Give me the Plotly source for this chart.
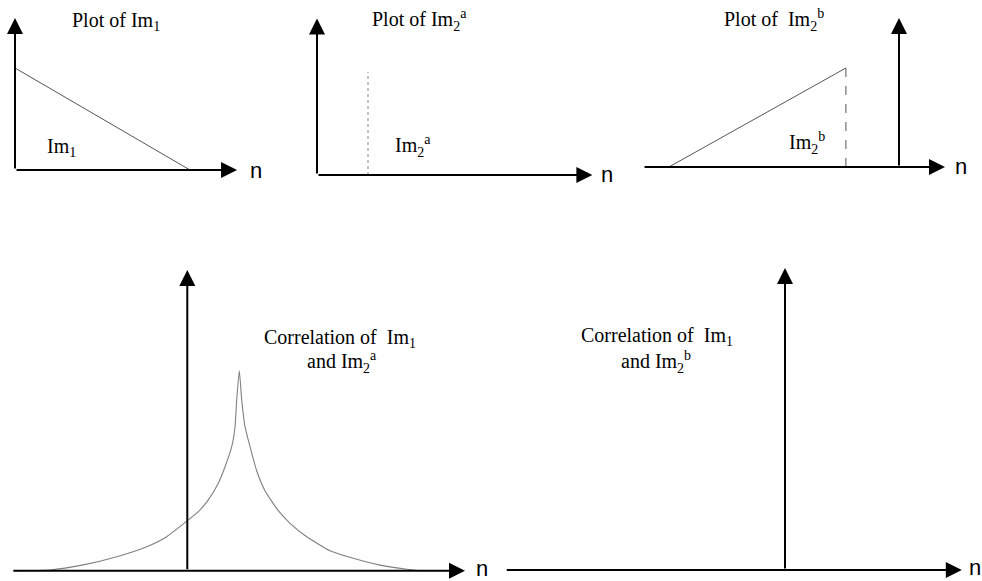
import plotly.graph_objects as go

# ---------------- data ----------------
# Im1: falling ramp from n=0 to n=10
im1_n = [0, 10]
im1_v = [1.0, 0.0]

# Im2^a: single impulse
im2a_n = [3]
im2a_v = [1.0]

# Im2^b: rising ramp ending with a vertical drop
im2b_n = [-13, -3]
im2b_v = [0.0, 1.0]

# Correlation of Im1 and Im2^a
corr_a_n = [-16.76, -13.2, -10.0, -6.79, -3.9, -1.98, 0.1, 1.06, 2.02, 2.98, 3.63, 4.27, 4.59, 4.75, 5.0,
            5.23, 5.55, 6.03, 6.67, 7.47, 8.75, 9.88, 11.48, 13.72, 15.96, 18.53, 21.1, 22.4]
corr_a_v = [0.0, 0.0035, 0.029, 0.07, 0.12, 0.17, 0.254, 0.295, 0.354, 0.437, 0.52, 0.62, 0.72, 0.854, 1.0,
            0.854, 0.72, 0.62, 0.50, 0.40, 0.30, 0.237, 0.17, 0.10, 0.062, 0.028, 0.007, 0.0]

# Correlation of Im1 and Im2^b: nothing drawn (zero everywhere)

# ---------------- layout helpers ----------------
W, H = 982, 581
PAD = 20

# origin pixel, pixel per unit (x, y), axis extents in data units
panels = [
    dict(ox=15, oy=170, sx=17.5, sy=102, xmin=0.0, xmax=12.69, ymax=1.49),
    dict(ox=317, oy=175, sx=17.0, sy=103, xmin=0.0, xmax=16.2, ymax=1.52),
    dict(ox=899, oy=167, sx=17.7, sy=99, xmin=-14.46, xmax=2.6, ymax=1.505),
    dict(ox=187.3, oy=570.7, sx=10.4, sy=200, xmin=-16.86, xmax=26.7, ymax=1.503),
    dict(ox=785, oy=570, sx=10.4, sy=200, xmin=-26.9, xmax=17.0, ymax=1.51),
]

fig = go.Figure()
layout = {}
annotations = []

for i, p in enumerate(panels):
    k = "" if i == 0 else str(i + 1)
    pl = max(0.0, p["ox"] + p["sx"] * p["xmin"] - PAD)
    pr = min(W, p["ox"] + p["sx"] * p["xmax"] + PAD)
    pt = max(0.0, p["oy"] - p["sy"] * p["ymax"] - PAD)
    pb = min(H, p["oy"] + PAD)
    xr = [(pl - p["ox"]) / p["sx"], (pr - p["ox"]) / p["sx"]]
    yr = [(p["oy"] - pb) / p["sy"], (p["oy"] - pt) / p["sy"]]
    layout["xaxis" + k] = dict(domain=[pl / W, pr / W], range=xr, visible=False,
                               fixedrange=True, anchor="y" + k)
    layout["yaxis" + k] = dict(domain=[1 - pb / H, 1 - pt / H], range=yr, visible=False,
                               fixedrange=True, anchor="x" + k)
    p["xref"] = "x" + k
    p["yref"] = "y" + k
    # axes with arrowheads
    annotations.append(dict(x=p["xmax"], y=0, ax=p["xmin"], ay=0, xref=p["xref"], yref=p["yref"],
                            axref=p["xref"], ayref=p["yref"], text="", showarrow=True,
                            arrowhead=2, arrowsize=1.6, arrowwidth=2, arrowcolor="black"))
    annotations.append(dict(x=0, y=p["ymax"], ax=0, ay=0, xref=p["xref"], yref=p["yref"],
                            axref=p["xref"], ayref=p["yref"], text="", showarrow=True,
                            arrowhead=2, arrowsize=1.6, arrowwidth=2, arrowcolor="black"))


def tr(i):
    return dict(xaxis=panels[i]["xref"], yaxis=panels[i]["yref"])


# Panel 1: Im1
fig.add_trace(go.Scatter(x=im1_n, y=im1_v, mode="lines", line=dict(color="#555555", width=1),
                         hoverinfo="skip", **tr(0)))
# Panel 2: Im2^a impulse (dotted stem)
for n, v in zip(im2a_n, im2a_v):
    fig.add_trace(go.Scatter(x=[n, n], y=[0, v], mode="lines",
                             line=dict(color="#888888", width=1, dash="dot"), hoverinfo="skip", **tr(1)))
# Panel 3: Im2^b ramp + dashed drop
fig.add_trace(go.Scatter(x=im2b_n, y=im2b_v, mode="lines", line=dict(color="#555555", width=1),
                         hoverinfo="skip", **tr(2)))
fig.add_trace(go.Scatter(x=[im2b_n[-1], im2b_n[-1]], y=[im2b_v[-1], 0], mode="lines",
                         line=dict(color="#555555", width=1, dash="dash"), hoverinfo="skip", **tr(2)))
# Panel 4: correlation curve
fig.add_trace(go.Scatter(x=corr_a_n, y=corr_a_v, mode="lines",
                         line=dict(color="#808080", width=1.1, shape="spline", smoothing=0.5),
                         hoverinfo="skip", **tr(3)))
# Panel 5: placeholder (empty) trace so the axes exist
fig.add_trace(go.Scatter(x=[0], y=[0], mode="markers", marker=dict(size=1, color="rgba(0,0,0,0)"),
                         hoverinfo="skip", **tr(4)))

SERIF = "Liberation Serif, Times New Roman, serif"
SANS = "Liberation Sans, Arial, sans-serif"


def txt(x, y, s, xanchor="left", size=20, family=SERIF):
    annotations.append(dict(x=x / W, y=1 - y / H, xref="paper", yref="paper", text=s, showarrow=False,
                            xanchor=xanchor, yanchor="middle",
                            font=dict(family=family, size=size, color="black")))


# titles / labels
txt(70, 21, "Plot of Im<sub>1</sub>")
txt(45, 147, "Im<sub>1</sub>")
txt(370, 20, "Plot of Im<sub>2</sub><sup>a</sup>")
txt(393, 146, "Im<sub>2</sub><sup>a</sup>")
txt(722, 20, "Plot of  Im<sub>2</sub><sup>b</sup>")
txt(787, 143, "Im<sub>2</sub><sup>b</sup>")
txt(340, 338, "Correlation of  Im<sub>1</sub>", xanchor="center")
txt(342, 362, "and Im<sub>2</sub><sup>a</sup>", xanchor="center")
txt(657, 337, "Correlation of  Im<sub>1</sub>", xanchor="center")
txt(656, 362, "and Im<sub>2</sub><sup>b</sup>", xanchor="center")
# "n" axis labels
txt(248, 170, "n", size=22, family=SANS)
txt(599, 175, "n", size=22, family=SANS)
txt(953, 167, "n", size=22, family=SANS)
txt(474, 568, "n", size=22, family=SANS)
txt(967, 567, "n", size=22, family=SANS)

fig.update_layout(**layout)
fig.update_layout(width=W, height=H, margin=dict(l=0, r=0, t=0, b=0), showlegend=False,
                  plot_bgcolor="white", paper_bgcolor="white", annotations=annotations)

fig.write_html("out.html", config={"displayModeBar": False},
               post_script="document.body.style.margin='0';document.body.style.overflow='hidden';")
